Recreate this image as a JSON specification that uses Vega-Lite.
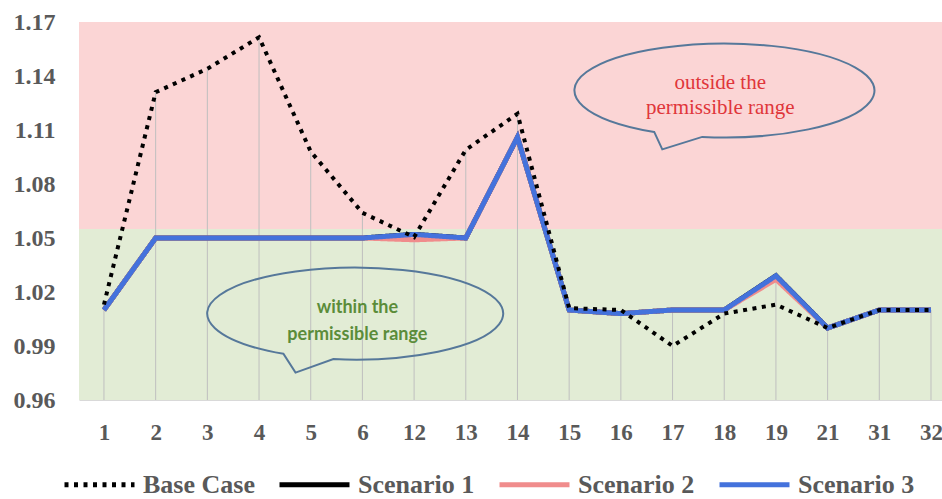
{
  "$schema": "https://vega.github.io/schema/vega-lite/v6.json",
  "width": 863,
  "height": 378,
  "autosize": {"type": "none"},
  "padding": {"left": 79, "top": 22, "right": 0, "bottom": 99},
  "background": "white",
  "config": {
    "view": {"stroke": null},
    "axisX": {"labelFont": "Liberation Serif", "labelFontWeight": "bold", "labelFontSize": 23, "labelColor": "#595959", "labelAngle": 0, "labelPadding": 21, "ticks": false, "grid": false, "domain": true, "domainColor": "#d9d9d9", "domainWidth": 1, "title": null},
    "axisY": {"labelFont": "Liberation Serif", "labelFontWeight": "bold", "labelFontSize": 24, "labelColor": "#595959", "labelPadding": 24, "ticks": false, "grid": false, "domain": false, "title": null}
  },
  "datasets": {
    "volt": [
      {"cat": 1, "Base Case": 1.013, "Scenario 1": 1.01, "Scenario 2": 1.01, "Scenario 3": 1.01},
      {"cat": 2, "Base Case": 1.131, "Scenario 1": 1.05, "Scenario 2": 1.05, "Scenario 3": 1.05},
      {"cat": 3, "Base Case": 1.144, "Scenario 1": 1.05, "Scenario 2": 1.05, "Scenario 3": 1.05},
      {"cat": 4, "Base Case": 1.1615, "Scenario 1": 1.05, "Scenario 2": 1.05, "Scenario 3": 1.05},
      {"cat": 5, "Base Case": 1.098, "Scenario 1": 1.05, "Scenario 2": 1.05, "Scenario 3": 1.05},
      {"cat": 6, "Base Case": 1.064, "Scenario 1": 1.05, "Scenario 2": 1.05, "Scenario 3": 1.05},
      {"cat": 12, "Base Case": 1.0505, "Scenario 1": 1.052, "Scenario 2": 1.049, "Scenario 3": 1.052},
      {"cat": 13, "Base Case": 1.099, "Scenario 1": 1.05, "Scenario 2": 1.05, "Scenario 3": 1.05},
      {"cat": 14, "Base Case": 1.119, "Scenario 1": 1.106, "Scenario 2": 1.106, "Scenario 3": 1.106},
      {"cat": 15, "Base Case": 1.011, "Scenario 1": 1.01, "Scenario 2": 1.01, "Scenario 3": 1.01},
      {"cat": 16, "Base Case": 1.01, "Scenario 1": 1.008, "Scenario 2": 1.008, "Scenario 3": 1.008},
      {"cat": 17, "Base Case": 0.99, "Scenario 1": 1.01, "Scenario 2": 1.01, "Scenario 3": 1.01},
      {"cat": 18, "Base Case": 1.008, "Scenario 1": 1.01, "Scenario 2": 1.01, "Scenario 3": 1.01},
      {"cat": 19, "Base Case": 1.013, "Scenario 1": 1.029, "Scenario 2": 1.027, "Scenario 3": 1.029},
      {"cat": 21, "Base Case": 1.0, "Scenario 1": 1.0, "Scenario 2": 1.0, "Scenario 3": 1.0},
      {"cat": 31, "Base Case": 1.01, "Scenario 1": 1.01, "Scenario 2": 1.01, "Scenario 3": 1.01},
      {"cat": 32, "Base Case": 1.01, "Scenario 1": 1.01, "Scenario 2": 1.01, "Scenario 3": 1.01}
    ],
    "bands": [
      {"zone": "outside", "lo": 1.055, "hi": 1.17},
      {"zone": "within", "lo": 0.96, "hi": 1.055}
    ]
  },
  "layer": [
    {
      "data": {"name": "bands"},
      "mark": {"type": "rect"},
      "encoding": {
        "y": {"field": "lo", "type": "quantitative", "scale": {"domain": [0.96, 1.17], "nice": false, "zero": false}, "title": null, "axis": {"values": [0.96, 0.99, 1.02, 1.05, 1.08, 1.11, 1.14, 1.17], "format": ".2f"}},
        "y2": {"field": "hi"},
        "fill": {"field": "zone", "type": "nominal", "scale": {"domain": ["outside", "within"], "range": ["#fbd5d5", "#e2ecd5"]}, "legend": null}
      }
    },
    {
      "data": {"name": "volt"},
      "transform": [
        {"fold": ["Base Case", "Scenario 1", "Scenario 2", "Scenario 3"], "as": ["series", "value"]},
        {"aggregate": [{"op": "max", "field": "value", "as": "vmax"}], "groupby": ["cat"]}
      ],
      "mark": {"type": "rule", "color": "#bfbfbf", "strokeWidth": 1},
      "encoding": {
        "x": {"field": "cat", "type": "ordinal", "scale": {"type": "point", "padding": 0.348, "align": 0.694}, "title": null},
        "y": {"field": "vmax", "type": "quantitative", "title": null},
        "y2": {"datum": 0.96}
      }
    },
    {
      "data": {"name": "volt"},
      "transform": [
        {"fold": ["Base Case", "Scenario 1", "Scenario 2", "Scenario 3"], "as": ["series", "value"]},
        {"filter": "datum.series !== 'Base Case'"}
      ],
      "mark": {"type": "line", "strokeWidth": 5},
      "encoding": {
        "x": {"field": "cat", "type": "ordinal", "title": null},
        "y": {"field": "value", "type": "quantitative", "title": null},
        "color": {
          "field": "series", "type": "nominal",
          "scale": {"domain": ["Base Case", "Scenario 1", "Scenario 2", "Scenario 3"], "range": ["#000000", "#000000", "#f08c8c", "#4472dc"]},
          "legend": {"title": null, "orient": "none", "legendX": -17, "legendY": 425, "direction": "horizontal", "columns": 4, "symbolType": "stroke", "symbolSize": 4900, "symbolStrokeWidth": 5, "labelFont": "Liberation Serif", "labelFontSize": 26, "labelFontWeight": "bold", "labelColor": "#595959", "labelOffset": 6, "columnPadding": 14}
        },
        "strokeDash": {
          "field": "series", "type": "nominal",
          "scale": {"domain": ["Base Case", "Scenario 1", "Scenario 2", "Scenario 3"], "range": [[4, 5.5], [1, 0], [1, 0], [1, 0]]}
        }
      }
    },
    {
      "data": {"name": "volt"},
      "transform": [
        {"fold": ["Base Case", "Scenario 1", "Scenario 2", "Scenario 3"], "as": ["series", "value"]},
        {"filter": "datum.series === 'Base Case'"}
      ],
      "mark": {"type": "line", "strokeWidth": 4},
      "encoding": {
        "x": {"field": "cat", "type": "ordinal", "title": null},
        "y": {"field": "value", "type": "quantitative", "title": null},
        "color": {"field": "series", "type": "nominal"},
        "strokeDash": {"field": "series", "type": "nominal"}
      }
    },
    {
      "data": {"values": [{"cat": 18, "v": 1.132}]},
      "mark": {"type": "point", "shape": "M-0.147,0.31 A1,0.313 0 1,0 -0.467,0.277 L-0.413,0.393 Z", "size": 90000, "filled": false, "color": "#56789a", "strokeWidth": 2, "opacity": 1},
      "encoding": {
        "x": {"field": "cat", "type": "ordinal", "title": null},
        "y": {"field": "v", "type": "quantitative", "title": null}
      }
    },
    {
      "data": {"values": [{"cat": 6, "v": 1.008}]},
      "mark": {"type": "point", "shape": "M-0.196,0.3075 A1,0.311 0 1,0 -0.533,0.272 L-0.452,0.399 Z", "size": 87616, "filled": false, "color": "#56789a", "strokeWidth": 2, "opacity": 1},
      "encoding": {
        "x": {"field": "cat", "type": "ordinal", "title": null},
        "y": {"field": "v", "type": "quantitative", "title": null}
      }
    },
    {
      "data": {"values": [{"cat": 18, "v": 1.1361, "note": "outside the\npermissible range"}]},
      "mark": {"type": "text", "lineBreak": "\n", "lineHeight": 25, "font": "Liberation Serif", "fontSize": 21, "color": "#e0363a", "align": "center", "baseline": "middle", "dx": -4},
      "encoding": {
        "x": {"field": "cat", "type": "ordinal", "title": null},
        "y": {"field": "v", "type": "quantitative", "title": null},
        "text": {"field": "note"}
      }
    },
    {
      "data": {"values": [{"cat": 6, "v": 1.0111, "note": "within the\npermissible range"}]},
      "mark": {"type": "text", "lineBreak": "\n", "lineHeight": 27, "font": "Lato", "fontWeight": "bold", "fontSize": 18, "color": "#5b8c3a", "align": "center", "baseline": "middle", "dx": -5},
      "encoding": {
        "x": {"field": "cat", "type": "ordinal", "title": null},
        "y": {"field": "v", "type": "quantitative", "title": null},
        "text": {"field": "note"}
      }
    }
  ]
}
